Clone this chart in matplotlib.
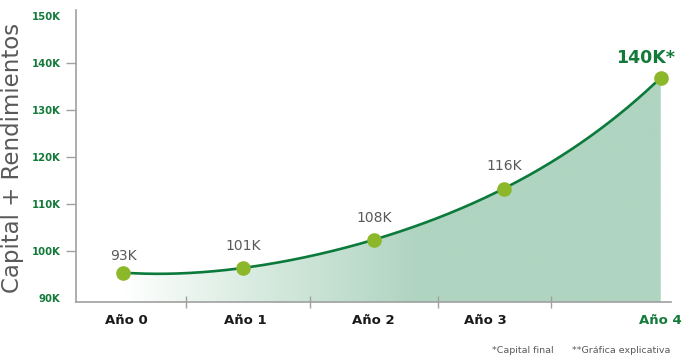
"""
Capital + Rendimientos: illustrative growth curve over four years.
"""

import numpy as np
import matplotlib
matplotlib.use("Agg")
import matplotlib.pyplot as plt
from matplotlib.colors import LinearSegmentedColormap

# ── Data ─────────────────────────────────────────────────────────────────────
years = ["Año 0", "Año 1", "Año 2", "Año 3", "Año 4"]
year_pos = [0.0, 1.0, 2.09, 3.175, 4.483]          # point positions on x
year_label_pos = [0.025, 1.02, 2.09, 3.02, 4.483]  # where the year names sit
separator_pos = [0.525, 1.56, 2.625, 3.57]
values = [95.4, 96.4, 102.4, 113.3, 136.9]          # curve height, thousands
value_labels = ["93K", "101K", "108K", "116K", "140K*"]
y_ticks = [90, 100, 110, 120, 130, 140, 150]
y_tick_labels = ["90K", "100K", "110K", "120K", "130K", "140K", "150K"]

# ── House style ──────────────────────────────────────────────────────────────
LINE_GREEN = "#0b7a3b"
DOT_GREEN = "#8cb72a"
TEXT_GREEN = "#137a3a"
GREY = "#595959"
AXIS_GREY = "#a0a0a0"
FILL = "#afd4c0"

fig = plt.figure(figsize=(6.93, 3.59), dpi=100)
ax = fig.add_axes([0.1097, 0.1588, 0.8583, 0.8132])

ymin, ymax = 89.15, 151.3
ax.set_xlim(-0.392, 4.567)
ax.set_ylim(ymin, ymax)

# smooth curve through the points
coef = np.polyfit(year_pos, values, len(year_pos) - 1)
xs = np.linspace(year_pos[0], year_pos[-1], 400)
ys = np.polyval(coef, xs)

# gradient area under the curve
cmap = LinearSegmentedColormap.from_list(
    "fade", [(0.0, "#ffffff"), (0.22, "#dcede3"), (0.55, FILL), (1.0, FILL)])
grad = np.linspace(0, 1, 256).reshape(1, -1)
img = ax.imshow(grad, cmap=cmap, aspect="auto", origin="lower",
                extent=(year_pos[0], year_pos[-1], ymin, ymax), zorder=1)
poly = ax.fill_between(xs, ys, ymin, color="none", lw=0)
img.set_clip_path(poly.get_paths()[0], transform=ax.transData)

ax.plot(xs, ys, color=LINE_GREEN, lw=1.9, zorder=3, solid_capstyle="round")
ax.plot(year_pos, values, "o", color=DOT_GREEN, ms=9.5, zorder=4)

# value labels above the points
offsets = [12, 16, 16, 16, 14]
for i, (x, v, lab) in enumerate(zip(year_pos, values, value_labels)):
    if i == len(values) - 1:
        ax.annotate(lab, (x, v), xytext=(-11, offsets[i]), textcoords="offset points",
                    ha="center", va="center", fontsize=12.5, fontweight="bold",
                    color=TEXT_GREEN, zorder=5)
    else:
        ax.annotate(lab, (x, v), xytext=(0, offsets[i]), textcoords="offset points",
                    ha="center", va="center", fontsize=10, color=GREY, zorder=5)

# axes
for side in ["top", "right"]:
    ax.spines[side].set_visible(False)
for side in ["left", "bottom"]:
    ax.spines[side].set_color(AXIS_GREY)
    ax.spines[side].set_linewidth(1.2)

ax.set_yticks(y_ticks)
ax.set_yticklabels(y_tick_labels, fontsize=7.3, fontweight="bold", color=TEXT_GREEN)
ax.tick_params(axis="y", length=7, width=1, color=AXIS_GREY, pad=4)
yt = ax.yaxis.get_major_ticks()
yt[0].tick1line.set_visible(False)
yt[-1].tick1line.set_visible(False)

ax.set_xticks(separator_pos)
ax.set_xticklabels([])
ax.tick_params(axis="x", direction="inout", length=9, width=1, color=AXIS_GREY)

for i, (x, name) in enumerate(zip(year_label_pos, years)):
    last = i == len(years) - 1
    ax.text(x, -0.065, name, transform=ax.get_xaxis_transform(), ha="center", va="center",
            fontsize=9.5, fontweight="bold", color=TEXT_GREEN if last else "#1a1a1a")

fig.text(0.018, 0.56, "Capital + Rendimientos", rotation=90, ha="center", va="center",
         fontsize=16.5, color=GREY)

fig.text(0.71, 0.025, "*Capital final", ha="left", va="center", fontsize=6.8, color=GREY)
fig.text(0.825, 0.025, "**Gráfica explicativa", ha="left", va="center", fontsize=6.8, color=GREY)

fig.savefig("out.png", dpi=100)
